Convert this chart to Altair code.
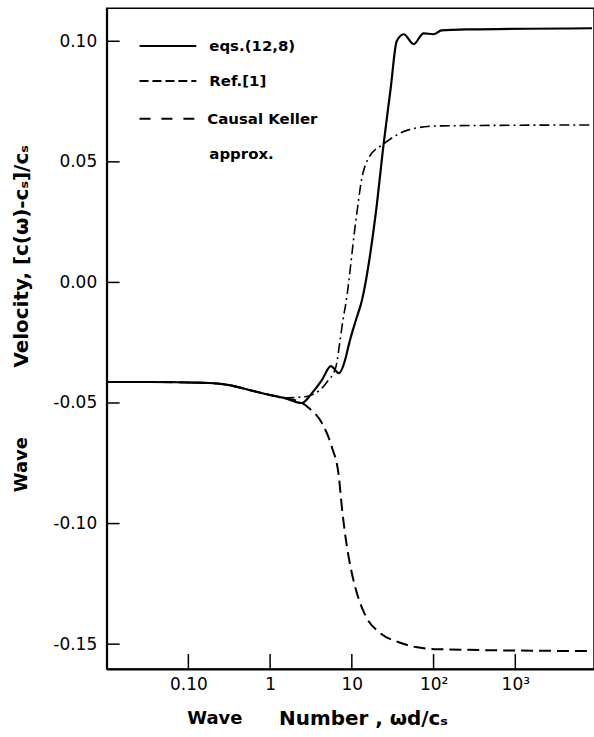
import altair as alt
import pandas as pd

# ---- data ----
common_x = [0.01, 0.0334, 0.1, 0.18, 0.316, 0.555, 1.0, 1.48]
common_y = [-0.0413, -0.0413, -0.0415, -0.0417, -0.0426, -0.0446, -0.0467, -0.0479]

eqs_x = [2.45, 3.25, 4.30, 5.54, 6.94, 8.45, 9.19, 11.2, 13.3, 19.6, 24.5, 29.9,
         35.4, 43.1, 57.0, 75.5, 100, 125, 267, 8690]
eqs_y = [-0.0500, -0.0459, -0.0405, -0.0347, -0.0376, -0.0310, -0.0258, -0.0157,
         -0.0074, 0.0285, 0.0574, 0.0806, 0.1000, 0.1029, 0.0988, 0.1033, 0.1029,
         0.1045, 0.1049, 0.1054]

ref_x = [2.45, 2.98, 4.30, 5.68, 6.94, 7.54, 8.45, 9.61, 11.2, 14.8, 21.5, 37.5,
         60.7, 115, 8690]
ref_y = [-0.0500, -0.0521, -0.0583, -0.0682, -0.0806, -0.0930, -0.1066, -0.1178,
         -0.1273, -0.1384, -0.1450, -0.1492, -0.1512, -0.1521, -0.1529]

keller_x = [2.26, 2.98, 4.97, 6.38, 7.1, 7.78, 8.45, 11.2, 13.3, 16.1, 24.5, 37.5,
            60.7, 115, 8690]
keller_y = [-0.0476, -0.0471, -0.0413, -0.0351, -0.0252, -0.0157, -0.0087, 0.0256,
            0.0434, 0.0517, 0.0574, 0.0616, 0.0640, 0.0649, 0.0653]

x_tick_values = [0.1, 1, 10, 100, 1000]
x_tick_labels = ["0.10", "1", "10", "10²", "10³"]
y_tick_values = [0.10, 0.05, 0.0, -0.05, -0.10, -0.15]
y_tick_labels = ["0.10", "0.05", "0.00", "-0.05", "-0.10", "-0.15"]

legend_labels = ["eqs.(12,8)", "Ref.[1]", "Causal Keller", "approx."]

# ---- layout ----
W, H = 489, 663
X_DOMAIN = [0.01, 10 ** 3.963]
Y_DOMAIN = [-0.1603, 0.1137]
FONT = "DejaVu Sans"


def label_expr(values, labels):
    expr = "''"
    for v, l in reversed(list(zip(values, labels))):
        expr = f"abs(datum.value - ({v})) < 1e-9 ? '{l}' : ({expr})"
    return expr


x_enc = alt.X(
    "w:Q",
    scale=alt.Scale(type="log", domain=X_DOMAIN, nice=False),
    axis=alt.Axis(values=x_tick_values, labelExpr=label_expr(x_tick_values, x_tick_labels),
                  ticks=False, grid=False, title=None, domainColor="black", domainWidth=2,
                  labelFont=FONT, labelFontSize=17, labelColor="black", labelPadding=8,
                  labelFlush=False),
)
y_enc = alt.Y(
    "v:Q",
    scale=alt.Scale(domain=Y_DOMAIN, nice=False, zero=False),
    axis=alt.Axis(values=y_tick_values, labelExpr=label_expr(y_tick_values, y_tick_labels),
                  ticks=False, grid=False, title=None, domainColor="black", domainWidth=2,
                  labelFont=FONT, labelFontSize=17, labelColor="black", labelPadding=10,
                  labelFlush=False),
)


def series(xs, ys):
    return pd.DataFrame({"w": common_x + xs, "v": common_y + ys})


eqs_line = alt.Chart(series(eqs_x, eqs_y)).mark_line(
    color="black", strokeWidth=2.2, interpolate="monotone").encode(x=x_enc, y=y_enc)
ref_line = alt.Chart(series(ref_x, ref_y)).mark_line(
    color="black", strokeWidth=2, strokeDash=[12, 6], interpolate="monotone").encode(x=x_enc, y=y_enc)
keller_line = alt.Chart(series(keller_x, keller_y)).mark_line(
    color="black", strokeWidth=1.6, strokeDash=[10, 4, 2, 4], interpolate="monotone").encode(x=x_enc, y=y_enc)

xt = alt.Chart(pd.DataFrame({"w": x_tick_values})).mark_rule(color="black", strokeWidth=1.5).encode(
    x=x_enc, y=alt.value(H - 15), y2=alt.value(H))
yt = alt.Chart(pd.DataFrame({"v": y_tick_values})).mark_rule(color="black", strokeWidth=1.5).encode(
    y=y_enc, x=alt.value(0), x2=alt.value(13))

dummy = pd.DataFrame({"a": [0]})


def leg_rule(ypix, dash=None, width=2):
    kw = dict(color="black", strokeWidth=width)
    if dash:
        kw["strokeDash"] = dash
    return alt.Chart(dummy).mark_rule(**kw).encode(
        x=alt.value(33), x2=alt.value(90), y=alt.value(ypix))


def txt(s, xpix, ypix, size=15, weight="bold", angle=0, align="left"):
    return alt.Chart(dummy).mark_text(
        text=s, font=FONT, fontSize=size, fontWeight=weight, color="black",
        align=align, baseline="middle", angle=angle).encode(
        x=alt.value(xpix), y=alt.value(ypix))


legend = [
    leg_rule(38),
    leg_rule(73, [9, 4]),
    leg_rule(111, [11, 11]),
    txt(legend_labels[0], 103, 38, size=15),
    txt(legend_labels[1], 103, 73, size=15),
    txt(legend_labels[2], 101, 111, size=15),
    txt(legend_labels[3], 103, 146, size=15),
]

titles = [
    txt("Wave", 81, 713, size=18),
    txt("Number , ωd/cₛ", 173, 713, size=20),
    txt("Wave", -85, 458, size=18, angle=270, align="center"),
    txt("Velocity, [c(ω)-cₛ]/cₛ", -85, 249, size=20, angle=270, align="center"),
]

chart = alt.layer(eqs_line, ref_line, keller_line, xt, yt, *legend, *titles).properties(
    width=W, height=H, autosize="none",
    padding={"left": 107, "top": 7, "right": 0, "bottom": 67},
).configure_view(stroke="black", strokeWidth=1.5)

chart.save("out.html", embed_options={"renderer": "svg", "actions": False})
